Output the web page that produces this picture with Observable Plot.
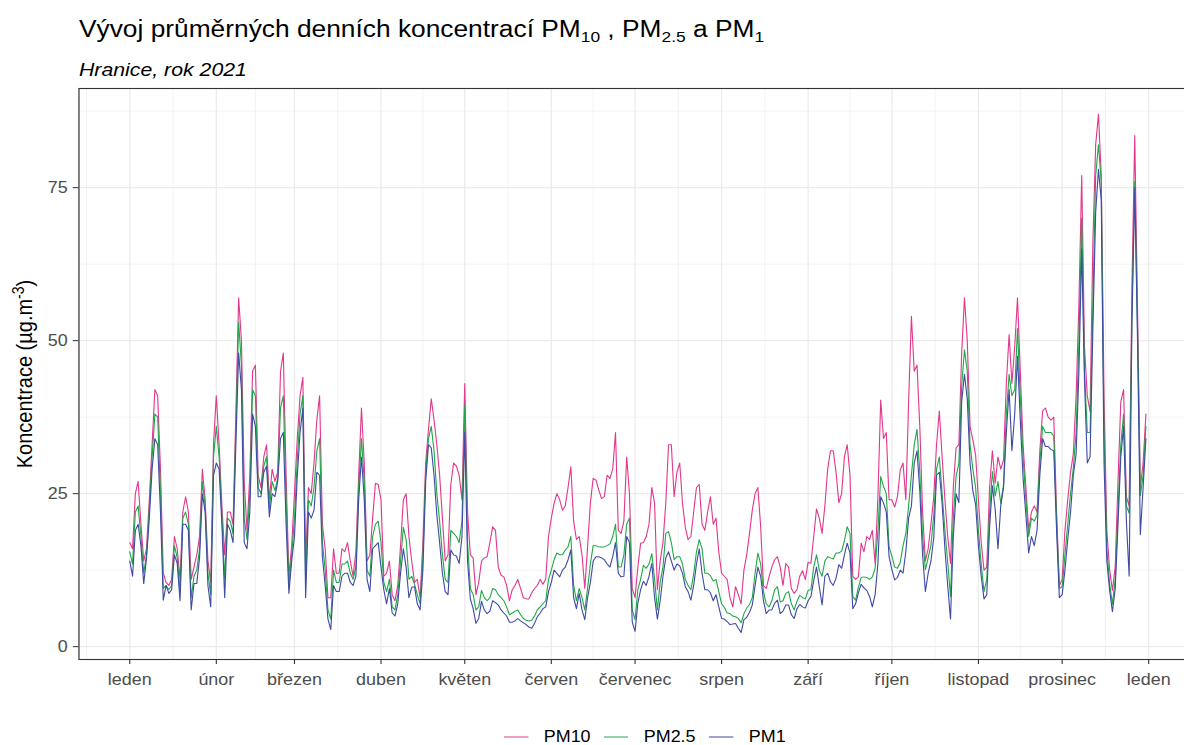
<!DOCTYPE html>
<html>
<head>
<meta charset="utf-8">
<script src="https://cdn.jsdelivr.net/npm/d3@7"></script>
<script src="https://cdn.jsdelivr.net/npm/@observablehq/plot@0.6"></script>
<style>
html, body { margin: 0; padding: 0; background: #fff; overflow: hidden; width: 1184px; height: 745px; }
#wrap { position: absolute; left: 0; top: 0; width: 1072px; height: 745px; transform: scaleX(1.12); transform-origin: 0 0; font-family: "Liberation Sans", Arial, sans-serif; color: #000; }
#title { position: absolute; left: 70.5px; top: 16.5px; font-size: 23.5px; line-height: 24px; white-space: nowrap; }
#title sub { font-size: 15.5px; vertical-align: -5px; line-height: 0; }
#subtitle { position: absolute; left: 70.5px; top: 59.5px; font-size: 19px; line-height: 20px; font-style: italic; white-space: nowrap; }
#ylab { position: absolute; left: 22.3px; top: 373.5px; transform: translate(-50%, -50%) rotate(-90deg); font-size: 20px; line-height: 20px; white-space: nowrap; }
#ylab sup { font-size: 14px; vertical-align: 8px; line-height: 0; }
#chart { position: absolute; left: 0; top: 0; }
#legend { position: absolute; left: 450px; top: 727px; display: flex; align-items: center; font-size: 16px; line-height: 20px; white-space: nowrap; }
#legend .item { display: flex; align-items: center; margin-right: 12px; }
#legend .item span { margin-left: 13.5px; }
</style>
</head>
<body>
<div id="wrap">
  <div id="title">Vývoj průměrných denních koncentrací PM<sub>10</sub> , PM<sub>2.5</sub> a PM<sub>1</sub></div>
  <div id="subtitle">Hranice, rok 2021</div>
  <div id="chart"></div>
  <div id="ylab">Koncentrace (µg.m<sup>-3</sup>)</div>
  <div id="legend"></div>
</div>
<script>
// ---- data (daily means, 1.1.2021 - 31.12.2021) ----
const seriesNames = ["PM10", "PM2.5", "PM1"];
const seriesColors = ["#E3388C", "#22A84A", "#3F4BA4"];
const monthNames = ["leden", "únor", "březen", "duben", "květen", "červen", "červenec", "srpen", "září", "říjen", "listopad", "prosinec"];
const yTicks = [0, 25, 50, 75];
const yMinorTicks = [12.5, 37.5, 62.5, 87.5];

const PM10 = [
17,16,25,27,20,14,16,24,33,42,
41,29,12,10.5,10,11,18,16,11,22,
24.5,22,11,13,15,18,29,24,14,10.5,
33,41,33,23,15,22,22,20,38,57,
50,27,19,28,45,46,28,26,31,33,
24,29,27,28.5,45,48,28,11.5,16.5,25,
34,41,44,14,26,25,30,37,41,20,
16,8,8,16,12,12,16,15.5,17,14,
11.5,15.5,28,39,30,14,15,21,26.7,26.5,
24,11.5,12,14,8.5,7.5,10,16.5,24,25,
18,14,10.5,11,8,17,30,35.5,40.5,37,
33,28,21,14,15,26.5,30,29.5,28,24,
43,22,15,14.5,8.5,10.5,14,14.5,14.7,17,
19.6,19,13,11.7,11.4,10,7.5,9.3,10,11,
9.5,8,7.8,7.8,8.8,9.5,10,11,10.2,11,
18,21,23.4,25,24,22.3,23,26,29.4,20.5,
17.5,18,15,9.5,16.3,23.5,27.5,27.2,25.6,24.2,
24.5,28,27.5,29,35,19,18.5,20.5,31,25,
9.5,8,13,16.9,17,18,20,26,23.4,9.3,
14,17,23.4,33,33,24.5,28.5,30,23.4,19.5,
17.5,18,22,26,26.5,20,19,22,24.5,20,
21,15.5,12,11.5,11,8,6.5,9.8,8.5,7,
12.5,15,18.5,22.3,25,26,19.6,10,9.5,11.4,
13,14.2,14.7,13,10,13.6,13,9.5,8.7,9.3,
11.5,12.4,11,13.8,13.6,18,22.5,21,18.5,23,
29,32,32,28.5,23.5,25,31,33,28,11.5,
11,11.4,16.9,15.5,18,17.5,19,13.6,24.5,40.3,
34,35,24,24,22.8,24.5,28.9,30,24,40,
54,45,46,36,22,14,16,20,24.5,33,
38.5,31,24,18,13.6,26,32.5,33,48,57,
50,36,33.8,31.3,24,17,12.5,13,26,32,
26.7,31,29,30.5,43,51,43,49,57,45,
33,26,19,22,23,22,32,38.5,39,37.5,
37,37.5,22,10,11,19,24,28.5,31.5,41,
56,77,49,41,38.4,66,82,87,77,40.7,
19,12.6,9.2,13,27,40,42,24.5,23,59,
83.5,55,26,30,38
];

const PM25 = [
15.5,13.5,22,23,18,12,15,22.5,31,38,
37.5,25,9.5,10,9.3,10,16.5,14.5,9,21,
22,20,8,11.5,12.5,16,27,23,12,8.5,
31,36,31,21.5,11,21,20.5,18.5,35.5,53,
46,21,17.5,25,42,41,26,25,29.5,31,
22.5,27,25.5,27.5,39,41,24,10,15,21,
30.5,38,41,10.5,24,23,26,32,34,17,
12.5,6,4.5,12.5,10.5,10.5,13.5,13.5,14,12,
11,13,26,34,27,12.5,11.5,18,20,20.5,
17,10.5,9,11,6.5,6,8.5,14,19.5,17.5,
11,11.5,10.2,8.5,7,14.5,28.5,34,36,32,
25,20.5,15,11,10.5,19,18.5,18,17,20.5,
39.5,17,9.5,8.5,6,6.5,9.2,8,7.5,8,
9.5,9.3,8.5,8,7.5,6.5,5.2,5.5,5.8,6,
5.2,4.6,4.3,4.2,4.3,5,6,6.5,7,7.5,
11,12.5,14.2,15.3,15,15,15.8,16.3,18,10,
7.5,9.5,8,6,9.5,13.5,16.5,16.5,16.3,16.3,
16.3,16.5,16.8,18,20,13,13,15,20,21,
6,4.4,9.3,11,13.3,12.8,13.5,15.2,11,6,
10.5,13,18.5,18.8,17,14.2,14.7,14.7,13.5,11,
10,9.3,11.8,15.5,17.5,16,12,12,11.6,10.7,
11,9,7,6.4,5.5,5.4,5,4.9,4.6,3.9,
5.4,6.3,6.9,8,12,15.3,13.5,9,7,6.5,
7.5,9.3,9.8,7.3,7.5,8.7,9,7,6,7.4,
8.4,8,7.8,9.2,9.3,13,15,12.5,11.5,14,
14.7,14.5,14.3,15.3,15.3,15.6,17.3,19.6,18.5,8.2,
7.6,9.7,11.3,11.4,11.3,11,11.4,12.8,19,27.8,
26.2,25,16.3,14.8,13,12.8,13.8,16.5,18.5,23,
28,33,35.5,28.5,18,12.6,14.5,16.6,21.5,29,
31,25,19,13.8,8.2,21,27.8,30,42.5,48.5,
45,33,29,26,19,13.5,9,11,22,28.6,
24.6,27,23.4,26.5,38,44.5,41,42,52,40.8,
31,24,18,21,20.5,21.5,30,36,35,35,
35,34.4,20.6,9.5,9.8,15,20,25,29.2,35,
50,70,45,35,35,56,77,82,76,35,
16,10.3,6.9,11,22,33,38,23,21.8,55,
76,52,24.7,28,36
];

const PM1 = [
14,11.5,19,20,16.5,10.3,14.5,21,29,34,
33,22,7.6,10,8.7,9.3,15,13.6,7.5,20,
20,19,6,10.3,10.3,14.5,25,22,10,6.5,
28,30,29,20,8,20,19,17,33,48,
42,17,16,22,38,36,24.5,24.5,28.5,29.5,
21.2,25,24.5,27,34,35,20,8.7,14,18,
27.8,35,39,8,22,21,22.3,28.5,28,14.7,
10,4.5,2.8,10,9,9,11.5,12,12,10.5,
10,11.5,24,31,24,11,9,16,16.5,17,
13,9.3,7,9.5,5.5,5,7,12,16,13,
8,9.7,9.8,7,6,12.5,27,33,32.5,28,
21.5,17,12,9,8.5,15.8,15,14.8,13.6,18,
35,14,7.8,6.2,3.8,4.6,7.4,6,5.4,5.8,
7.5,7.2,6.8,6,5.5,5,4,4,4.2,4.6,
4.2,3.9,3.6,3.2,3,3.8,4.9,5.5,6.2,6.5,
9,10.5,12.5,12,11.4,12.5,13,14.2,15.8,8,
6.2,8.7,6,4.4,8,10.5,14,14.7,14.7,14.5,
14.2,13.5,13,14.7,17,12,11.4,11.5,18,17,
4,2.5,7.1,9.3,10.7,10,11.5,13.6,8,4.5,
7.5,11.5,14.5,15.5,14,12.5,13.5,13.2,12,9.8,
9,7.6,10,13.5,16,12,9.3,9.3,8.8,7.5,
8.5,6.5,4.6,4.5,4.1,3.6,3.7,3.8,3,2.3,
4.4,4.8,5.6,6.8,10,13,11.5,7.5,5.4,6,
6,7.1,7.6,5.4,5.8,6.8,6.8,5.2,4.6,6.2,
6.9,6.5,6.3,7.5,8.2,10.8,13,9.8,6.8,11.5,
12,10.6,10,11.2,13.4,12.8,15,16.9,15.3,6.2,
7,8.8,10.2,9.6,9.2,8.2,6.5,8.5,13.6,24.5,
23.5,22,14.7,12.6,10.9,11.3,12.5,12,15.5,21,
23,30,32,25.5,15,9,12,14,17.8,28,
28.5,23.4,16,10,4.5,18,25,23.5,40,44.5,
40.5,30,25.5,23.2,16.5,11.5,7.8,8.5,19.5,26.3,
22.5,16,23,26,35,42,32,38,47.5,37,
27.5,21.5,15.3,18,16.5,19,28,34,32.7,32.7,
32.2,32,19,8,8.5,12.5,17.5,22,28,31.5,
45,65,43.6,30,31,52,71,78,73,30,
14,9.2,5.7,9.5,20,31,36,20.6,11.5,53,
75,50,18.3,26,34
];

// ---- build table ----
const seriesValues = [PM10, PM25, PM1];
const rows = [];
seriesNames.forEach((name, k) => {
  seriesValues[k].forEach((v, i) => {
    rows.push({date: new Date(Date.UTC(2021, 0, 1 + i)), value: v, series: name});
  });
});

const DAY = 864e5;
const t0 = Date.UTC(2021, 0, 1);
const nDays = PM10.length - 1;
const xDomain = [new Date(t0 - 0.05 * nDays * DAY), new Date(t0 + 1.05 * nDays * DAY)];
const monthTicks = d3.range(13).map(m => new Date(Date.UTC(2021, m, 1)));
const minorTicks = d3.range(-1, 13).map(m => {
  const a = Date.UTC(2021, m, 1), b = Date.UTC(2021, m + 1, 1);
  return new Date((a + b) / 2);
});

const chart = Plot.plot({
  width: 1072,
  height: 700,
  marginLeft: 70,
  marginRight: 4,
  marginTop: 88,
  marginBottom: 41,
  style: {fontFamily: "Liberation Sans, Arial, sans-serif", fontSize: "16px", background: "transparent", color: "#4d4d4d"},
  x: {type: "utc", domain: xDomain},
  y: {domain: [-2.1, 91.2]},
  color: {domain: seriesNames, range: seriesColors},
  marks: [
    Plot.gridY(yMinorTicks, {stroke: "#ebebeb", strokeOpacity: 1, strokeWidth: 0.6}),
    Plot.gridX(minorTicks, {stroke: "#ebebeb", strokeOpacity: 1, strokeWidth: 0.6}),
    Plot.gridY(yTicks, {stroke: "#ebebeb", strokeOpacity: 1, strokeWidth: 1.1}),
    Plot.gridX(monthTicks, {stroke: "#ebebeb", strokeOpacity: 1, strokeWidth: 1.1}),
    Plot.line(rows, {x: "date", y: "value", z: "series", stroke: "series", strokeWidth: 1}),
    Plot.frame({stroke: "#333333", strokeWidth: 1.1}),
    Plot.axisY(yTicks, {tickSize: 5, tickPadding: 5, fontSize: 16, stroke: "#333333", label: null}),
    Plot.axisX(monthTicks, {tickSize: 5, tickPadding: 9, fontSize: 16, stroke: "#333333", label: null,
      tickFormat: d => monthNames[d.getUTCMonth()]})
  ]
});
document.getElementById("chart").appendChild(chart);

// ---- legend ----
const legend = document.getElementById("legend");
seriesNames.forEach((name, k) => {
  const item = document.createElement("div");
  item.className = "item";
  item.innerHTML = `<svg width="22" height="20"><line x1="0" x2="22" y1="10" y2="10" stroke="${seriesColors[k]}" stroke-width="1.2"/></svg><span>${name}</span>`;
  legend.appendChild(item);
});
</script>
</body>
</html>
